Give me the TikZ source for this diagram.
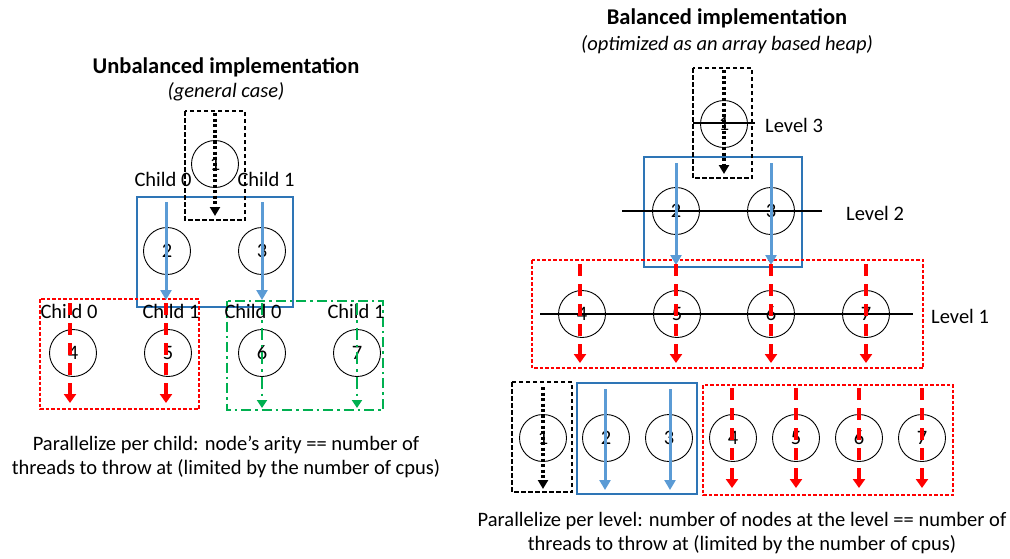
\documentclass[tikz,border=0pt]{standalone}
\usepackage{fontspec}
\setmainfont{Carlito}
\usetikzlibrary{arrows.meta}
\definecolor{boxblue}{HTML}{2E75B6}
\definecolor{arrowblue}{HTML}{5B9BD5}
\definecolor{pgreen}{HTML}{00B050}
\definecolor{pred}{HTML}{FF0000}
\begin{document}
\begin{tikzpicture}[x=1pt,y=-1pt,
  txt/.style={font=\fontsize{20.5}{24}\selectfont,inner sep=0pt,align=center},
  ttl/.style={font=\fontsize{22.5}{26}\selectfont\bfseries,inner sep=0pt},
  sub/.style={font=\fontsize{20.5}{24}\selectfont\itshape,inner sep=0pt},
  treenode/.style={circle,draw,line width=0.9pt,minimum size=47pt,inner sep=0pt,font=\fontsize{20.5}{24}\selectfont},
  blackbox/.style={draw,line width=1.5pt,dash pattern=on 4.5pt off 2.5pt},
  bluebox/.style={draw=boxblue,line width=1.6pt},
  redbox/.style={draw=pred,line width=1.5pt,dash pattern=on 3.5pt off 2pt},
  greenbox/.style={draw=pgreen,line width=1.6pt,dash pattern=on 10pt off 4pt on 2.5pt off 4pt},
  levelline/.style={line width=1.6pt},
  blackthread/.style={line width=3.2pt,dash pattern=on 3pt off 2.5pt,-{Triangle[length=9pt,width=10pt]}},
  bluethread/.style={draw=arrowblue,line width=3pt,-{Triangle[length=10pt,width=11pt]}},
  redthread/.style={draw=pred,line width=3.8pt,dash pattern=on 12pt off 8pt,-{Triangle[length=9pt,width=12pt]}},
  greenthread/.style={draw=pgreen,line width=2.4pt,dash pattern=on 12pt off 5pt on 2.5pt off 5pt,-{Triangle[length=8pt,width=10pt]}}
]
\useasboundingbox (0,0) rectangle (1010,558);

% ---------------- Unbalanced tree ----------------
\node[ttl] (ut) at (226,67) {Unbalanced implementation};
\node[sub] (us) at (226,92) {(general case)};

\draw[bluebox] (137,197) rectangle (293,307);
\draw[redbox] (40,299) rectangle (199,409);
\draw[greenbox] (227,301) rectangle (383,410);
\draw[blackbox] (185,111) rectangle (245,220);

\node[treenode] (u1) at (215,164) {1};
\node[treenode] (u2) at (167,251) {2};
\node[treenode] (u3) at (262,251) {3};
\node[treenode] (u4) at (73,353) {4};
\node[treenode] (u5) at (168,353) {5};
\node[treenode] (u6) at (262,353) {6};
\node[treenode] (u7) at (357,353) {7};

\node[txt] (uc0) at (163,179) {Child 0};
\node[txt] (uc1) at (266,179) {Child 1};
\node[txt] (uc00) at (69,311) {Child 0};
\node[txt] (uc01) at (171,311) {Child 1};
\node[txt] (uc10) at (253,311) {Child 0};
\node[txt] (uc11) at (356,311) {Child 1};

% threads run top to bottom (yshift is in page direction: positive = up)
\draw[blackthread] ([yshift=51pt]u1.center) -- ([yshift=-52pt]u1.center);
\draw[bluethread] ([xshift=-1pt,yshift=49pt]u2.center) -- ([xshift=-1pt,yshift=-49pt]u2.center);
\draw[bluethread] ([yshift=49pt]u3.center) -- ([yshift=-49pt]u3.center);
\draw[redthread] ([xshift=-3pt,yshift=50pt]u4.center) -- ([xshift=-3pt,yshift=-50pt]u4.center);
\draw[redthread] ([xshift=-2pt,yshift=50pt]u5.center) -- ([xshift=-2pt,yshift=-50pt]u5.center);
\draw[greenthread] ([yshift=50pt]u6.center) -- ([yshift=-55pt]u6.center);
\draw[greenthread] ([yshift=50pt]u7.center) -- ([yshift=-55pt]u7.center);

\node[txt] (ucap) at (226,457) {Parallelize per child: node’s arity == number of\\threads to throw at (limited by the number of cpus)};

% ---------------- Balanced tree ----------------
\node[ttl] (bt) at (727,18) {Balanced implementation};
\node[sub] (bs) at (727,45) {(optimized as an array based heap)};

\draw[bluebox] (644,157) rectangle (802,267);
\draw[redbox] (532,260) rectangle (923,368);
\draw[blackbox] (693,68) rectangle (752,178);

\node[treenode] (b1) at (724,124) {1};
\node[treenode] (b2) at (676,211) {2};
\node[treenode] (b3) at (771,211) {3};
\node[treenode] (b4) at (582,314) {4};
\node[treenode] (b5) at (677,314) {5};
\node[treenode] (b6) at (771,314) {6};
\node[treenode] (b7) at (866,314) {7};

\coordinate (l3a) at (693,123); \coordinate (l3b) at (755,123);
\coordinate (l2a) at (622,211); \coordinate (l2b) at (822,211);
\coordinate (l1a) at (540,314); \coordinate (l1b) at (913,314);
\draw[levelline] (l3a) -- (l3b);
\draw[levelline] (l2a) -- (l2b);
\draw[levelline] (l1a) -- (l1b);
\node[txt,anchor=west] (lv3) at (765,125) {Level 3};
\node[txt,anchor=west] (lv2) at (846,213) {Level 2};
\node[txt,anchor=west] (lv1) at (931,316) {Level 1};

\draw[blackthread] ([yshift=54pt]b1.center) -- ([yshift=-50pt]b1.center);
\draw[bluethread] ([yshift=48pt]b2.center) -- ([yshift=-54pt]b2.center);
\draw[bluethread] ([yshift=48pt]b3.center) -- ([yshift=-54pt]b3.center);
\draw[redthread] ([xshift=-2pt,yshift=50pt]b4.center) -- ([xshift=-2pt,yshift=-49pt]b4.center);
\draw[redthread] ([xshift=-1pt,yshift=50pt]b5.center) -- ([xshift=-1pt,yshift=-49pt]b5.center);
\draw[redthread] ([yshift=50pt]b6.center) -- ([yshift=-49pt]b6.center);
\draw[redthread] ([yshift=50pt]b7.center) -- ([yshift=-49pt]b7.center);

% flat array of the same heap
\draw[blackbox] (512,382) rectangle (572,492);
\draw[bluebox] (577,383) rectangle (697,494);
\draw[redbox] (703,385) rectangle (953,495);

\node[treenode] (a1) at (543,438) {1};
\node[treenode] (a2) at (606,438) {2};
\node[treenode] (a3) at (669,438) {3};
\node[treenode] (a4) at (733,438) {4};
\node[treenode] (a5) at (796,438) {5};
\node[treenode] (a6) at (859,438) {6};
\node[treenode] (a7) at (922,438) {7};

\draw[blackthread] ([yshift=51pt]a1.center) -- ([yshift=-51pt]a1.center);
\draw[bluethread] ([xshift=-1pt,yshift=49pt]a2.center) -- ([xshift=-1pt,yshift=-52pt]a2.center);
\draw[bluethread] ([xshift=1pt,yshift=49pt]a3.center) -- ([xshift=1pt,yshift=-52pt]a3.center);
\draw[redthread] ([xshift=-1pt,yshift=50pt]a4.center) -- ([xshift=-1pt,yshift=-50pt]a4.center);
\draw[redthread] ([yshift=50pt]a5.center) -- ([yshift=-50pt]a5.center);
\draw[redthread] ([yshift=50pt]a6.center) -- ([yshift=-50pt]a6.center);
\draw[redthread] ([yshift=50pt]a7.center) -- ([yshift=-50pt]a7.center);

\node[txt] (bcap) at (742,533) {Parallelize per level: number of nodes at the level == number of\\threads to throw at (limited by the number of cpus)};
\end{tikzpicture}
\end{document}
